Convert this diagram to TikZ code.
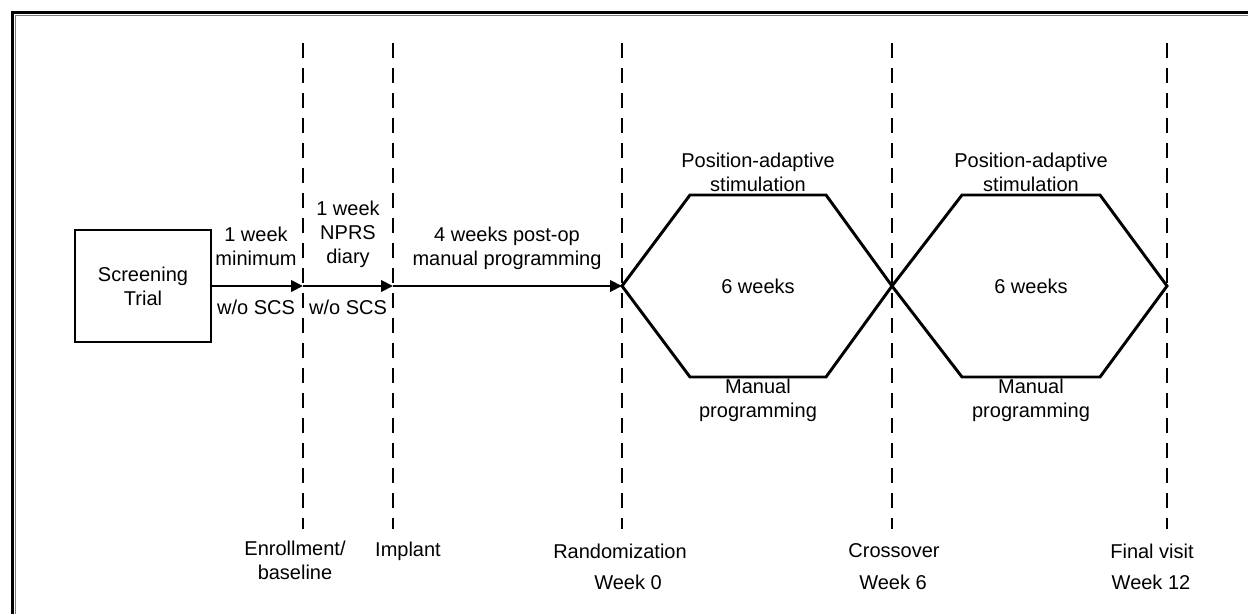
\documentclass[tikz,border=0pt]{standalone}
\usepackage{fontspec}
\setmainfont{Liberation Sans}
\usetikzlibrary{arrows.meta}

\tikzset{
  txt/.style={inner sep=0.75pt, align=center, font=\fontsize{15}{18}\selectfont},
  phase/.style={dash pattern=on 11.25pt off 7.5pt},
  flow/.style={-{Triangle[length=9pt,width=8.5pt]}}}

\begin{document}
\begin{tikzpicture}[x=0.75pt,y=0.75pt,yscale=-1,xscale=1,line width=2.2pt]
\useasboundingbox (0,0) rectangle (1248,614);

%Frame
\draw [line width=2.1pt]   (12.5,614) -- (12.5,12.5) -- (1248,12.5) ;
\draw [color={rgb, 255:red, 120; green, 120; blue, 120 }  ,line width=0.8pt]   (15.8,614) -- (15.8,15.8) -- (1248,15.8) ;

%Time points
\coordinate (enrT) at (303,43) ;   \coordinate (enr) at (303,286) ;   \coordinate (enrB) at (303,529) ;
\coordinate (impT) at (393,43) ;   \coordinate (imp) at (393,286) ;   \coordinate (impB) at (393,529) ;
\coordinate (ranT) at (622,43) ;   \coordinate (ran) at (622,286) ;   \coordinate (ranB) at (622,529) ;
\coordinate (crsT) at (892,43) ;   \coordinate (crs) at (892,286) ;   \coordinate (crsB) at (892,529) ;
\coordinate (finT) at (1167,43) ;  \coordinate (fin) at (1167,286) ;  \coordinate (finB) at (1167,529) ;

%Dashed Lines
\draw [phase]   (enrT) -- (enrB) ;
\draw [phase]   (impT) -- (impB) ;
\draw [phase]   (ranT) -- (ranB) ;
\draw [phase]   (crsT) -- (crsB) ;
\draw [phase]   (finT) -- (finB) ;

%Shape: Rectangle
\node [draw, txt, minimum width=136*0.75pt, minimum height=112*0.75pt] (screen) at (143,286) {Screening\\Trial};

%Straight Lines
\draw [flow]   (screen.east) -- (enr) ;
\draw [flow]   (enr) -- (imp) ;
\draw [flow]   (imp) -- (ran) ;

%Shape: Hexagons
\coordinate (h1a) at (690,195) ;  \coordinate (h1b) at (826,195) ;
\coordinate (h1c) at (826,377) ;  \coordinate (h1d) at (690,377) ;
\draw [line join=miter]   (ran) -- (h1a) -- (h1b) -- (crs) -- (h1c) -- (h1d) -- cycle ;
\coordinate (h2a) at (962,195) ;  \coordinate (h2b) at (1100,195) ;
\coordinate (h2c) at (1100,377) ; \coordinate (h2d) at (962,377) ;
\draw [line join=miter]   (crs) -- (h2a) -- (h2b) -- (fin) -- (h2c) -- (h2d) -- cycle ;

% Text Node
\node [txt] (minwk) at (256,246.5) {1 week\\minimum};
% Text Node
\node [txt] (wo1) at (256,307) {w/o SCS};
% Text Node
\node [txt] (diary) at (348,234) {1 week\\NPRS\\diary};
% Text Node
\node [txt] (wo2) at (348,307) {w/o SCS};
% Text Node
\node [txt] (postop) at (507,248) {4 weeks post-op\\manual programming};
% Text Node
\node [txt] (pos1) at (758,172) {Position-adaptive\\stimulation};
% Text Node
\node [txt] (six1) at (758,286) {6 weeks};
% Text Node
\node [txt] (man1) at (758,400) {Manual\\programming};
% Text Node
\node [txt] (pos2) at (1031,172) {Position-adaptive\\stimulation};
% Text Node
\node [txt] (six2) at (1031,286) {6 weeks};
% Text Node
\node [txt] (man2) at (1031,400) {Manual\\programming};
% Text Node
\node [txt] (enrl) at (295,560) {Enrollment/\\baseline};
% Text Node
\node [txt] (impl) at (408,551) {Implant};
% Text Node
\node [txt] (ranl) at (620,551) {Randomization};
% Text Node
\node [txt] (ranw) at (628,582) {Week 0};
% Text Node
\node [txt] (crsl) at (894,551) {Crossover};
% Text Node
\node [txt] (crsw) at (893,582) {Week 6};
% Text Node
\node [txt] (finl) at (1152,551) {Final visit};
% Text Node
\node [txt] (finw) at (1151,582) {Week 12};
\end{tikzpicture}
\end{document}
